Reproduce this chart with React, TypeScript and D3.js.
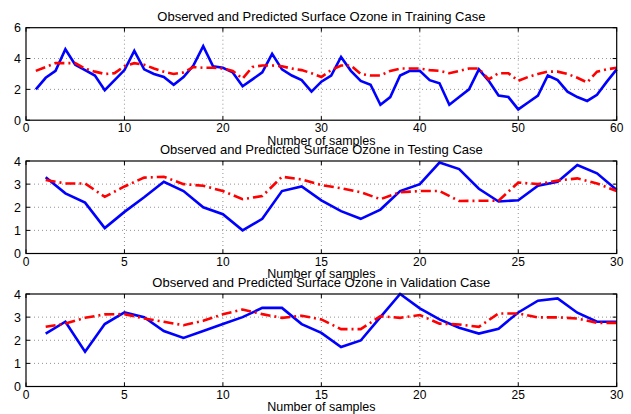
import React from "react";
import * as d3 from "d3";

const trainObserved = [
  2.0, 2.75, 3.2, 4.6, 3.6, 3.25, 2.9, 1.95, 2.6, 3.25,
  4.5, 3.3, 3.0, 2.8, 2.3, 2.8, 3.55, 4.8, 3.5, 3.4,
  3.1, 2.2, 2.65, 3.1, 4.3, 3.3, 2.9, 2.6, 1.85, 2.5,
  2.9, 4.1, 3.2, 2.55, 2.3, 1.0, 1.5, 2.9, 3.2, 3.2,
  2.6, 2.4, 1.0, 1.5, 2.0, 3.3, 2.55, 1.6, 1.5, 0.7,
  1.15, 1.6, 2.9, 2.6, 1.85, 1.5, 1.25, 1.65, 2.5, 3.3,
];
const trainPredicted = [
  3.2, 3.45, 3.7, 3.7, 3.7, 3.35, 3.15, 3.0, 3.05, 3.5,
  3.7, 3.6, 3.35, 3.15, 3.0, 3.1, 3.45, 3.4, 3.4, 3.35,
  3.2, 2.7, 3.45, 3.55, 3.55, 3.5, 3.35, 3.25, 3.05, 2.8,
  3.25, 3.55, 3.55, 3.0, 2.9, 2.9, 3.2, 3.35, 3.35, 3.35,
  3.25, 3.2, 3.05, 3.2, 3.35, 3.35, 2.65, 3.05, 3.05, 2.55,
  2.8, 3.0, 3.15, 3.15, 3.0, 2.75, 2.45, 3.15, 3.3, 3.4,
];
const testObserved = [
  3.3, 2.6, 2.2, 1.1, 1.8, 2.43, 3.1, 2.7, 2.0, 1.7,
  1.0, 1.5, 2.7, 2.9, 2.3, 1.83, 1.5, 1.9, 2.7, 3.0,
  3.93, 3.65, 2.8, 2.25, 2.3, 2.93, 3.1, 3.83, 3.47, 2.75,
];
const testPredicted = [
  3.18, 3.03, 3.03, 2.45, 2.9, 3.28, 3.32, 3.0, 2.93, 2.7,
  2.35, 2.48, 3.32, 3.2, 2.96, 2.82, 2.65, 2.35, 2.65, 2.7,
  2.7, 2.27, 2.28, 2.28, 3.07, 3.0, 3.15, 3.25, 3.03, 2.7,
];
const validObserved = [
  2.29, 2.8, 1.5, 2.7, 3.2, 3.0, 2.4, 2.1, 2.4, 2.7,
  3.0, 3.4, 3.4, 2.7, 2.32, 1.71, 1.99, 3.0, 4.0, 3.38,
  2.9, 2.54, 2.29, 2.5, 3.2, 3.71, 3.81, 3.19, 2.8, 2.8,
];
const validPredicted = [
  2.58, 2.72, 2.97, 3.12, 3.13, 2.94, 2.8, 2.65, 2.84, 3.12,
  3.33, 3.13, 2.97, 3.06, 2.9, 2.48, 2.48, 3.04, 2.97, 3.09,
  2.72, 2.68, 2.58, 3.16, 3.16, 2.99, 2.99, 2.94, 2.75, 2.75,
];

const titles = [
  "Observed and Predicted Surface Ozone in Training Case",
  "Observed and Predicted Surface Ozone in Testing Case",
  "Observed and Predicted Surface Ozone in Validation Case",
];
const xLabel = "Number of samples";
const xTicksTrain = [0, 10, 20, 30, 40, 50, 60];
const xTicksShort = [0, 5, 10, 15, 20, 25, 30];
const yTicksTrain = [0, 2, 4, 6];
const yTicksShort = [0, 1, 2, 3, 4];

const FONT = "'Liberation Sans', Arial, Helvetica, sans-serif";
const LEFT = 26;
const RIGHT = 616.7;
const PANEL_H = 92.5;

type PanelProps = {
  top: number;
  title: string;
  observed: number[];
  predicted: number[];
  xMax: number;
  yMax: number;
  xTicks: number[];
  yTicks: number[];
};

function Panel({ top, title, observed, predicted, xMax, yMax, xTicks, yTicks }: PanelProps) {
  const bottom = top + PANEL_H;
  const x = d3.scaleLinear().domain([0, xMax]).range([LEFT, RIGHT]);
  const y = d3.scaleLinear().domain([0, yMax]).range([bottom, top]);
  const line = d3
    .line<number>()
    .x((_, i) => x(i + 1))
    .y((d) => y(d));
  const tickLen = 4;
  return (
    <g>
      <text
        x={(LEFT + RIGHT) / 2}
        y={top - 7}
        textAnchor="middle"
        fontSize={13}
        fontFamily={FONT}
        fill="#000"
      >
        {title}
      </text>
      {xTicks
        .filter((t) => t !== 0 && t !== xMax)
        .map((t) => (
          <line
            key={"gx" + t}
            x1={x(t)}
            x2={x(t)}
            y1={top}
            y2={bottom}
            stroke="#777"
            strokeWidth={0.8}
            strokeDasharray="1,3"
          />
        ))}
      {yTicks
        .filter((t) => t !== 0 && t !== yMax)
        .map((t) => (
          <line
            key={"gy" + t}
            x1={LEFT}
            x2={RIGHT}
            y1={y(t)}
            y2={y(t)}
            stroke="#777"
            strokeWidth={0.8}
            strokeDasharray="1,3"
          />
        ))}
      {xTicks.map((t) => (
        <g key={"tx" + t}>
          <line x1={x(t)} x2={x(t)} y1={bottom} y2={bottom - tickLen} stroke="#000" strokeWidth={1} />
          <line x1={x(t)} x2={x(t)} y1={top} y2={top + tickLen} stroke="#000" strokeWidth={1} />
          <text
            x={x(t)}
            y={bottom + 12}
            textAnchor="middle"
            fontSize={12}
            fontFamily={FONT}
            fill="#000"
          >
            {t}
          </text>
        </g>
      ))}
      {yTicks.map((t) => (
        <g key={"ty" + t}>
          <line x1={LEFT} x2={LEFT + tickLen} y1={y(t)} y2={y(t)} stroke="#000" strokeWidth={1} />
          <line x1={RIGHT} x2={RIGHT - tickLen} y1={y(t)} y2={y(t)} stroke="#000" strokeWidth={1} />
          <text
            x={LEFT - 5}
            y={y(t) + 4.5}
            textAnchor="end"
            fontSize={12.5}
            fontFamily={FONT}
            fill="#000"
          >
            {t}
          </text>
        </g>
      ))}
      <text
        x={(LEFT + RIGHT) / 2}
        y={bottom + 24.5}
        textAnchor="middle"
        fontSize={12.5}
        fontFamily={FONT}
        fill="#000"
      >
        {xLabel}
      </text>
      <path d={line(observed) || ""} fill="none" stroke="#0000ff" strokeWidth={2.6} strokeLinejoin="miter" />
      <path
        d={line(predicted) || ""}
        fill="none"
        stroke="#ff0000"
        strokeWidth={2.6}
        strokeDasharray="10,4,2,4"
      />
      <rect
        x={LEFT}
        y={top}
        width={RIGHT - LEFT}
        height={PANEL_H}
        fill="none"
        stroke="#000"
        strokeWidth={1.2}
      />
    </g>
  );
}

export default function App() {
  return (
    <svg
      width={631}
      height={414}
      style={{ position: "absolute", left: 0, top: 0, background: "#fff" }}
    >
      <rect width={631} height={414} fill="#fff" />
      <Panel
        top={27.7}
        title={titles[0]}
        observed={trainObserved}
        predicted={trainPredicted}
        xMax={60}
        yMax={6}
        xTicks={xTicksTrain}
        yTicks={yTicksTrain}
      />
      <Panel
        top={161}
        title={titles[1]}
        observed={testObserved}
        predicted={testPredicted}
        xMax={30}
        yMax={4}
        xTicks={xTicksShort}
        yTicks={yTicksShort}
      />
      <Panel
        top={294}
        title={titles[2]}
        observed={validObserved}
        predicted={validPredicted}
        xMax={30}
        yMax={4}
        xTicks={xTicksShort}
        yTicks={yTicksShort}
      />
    </svg>
  );
}
